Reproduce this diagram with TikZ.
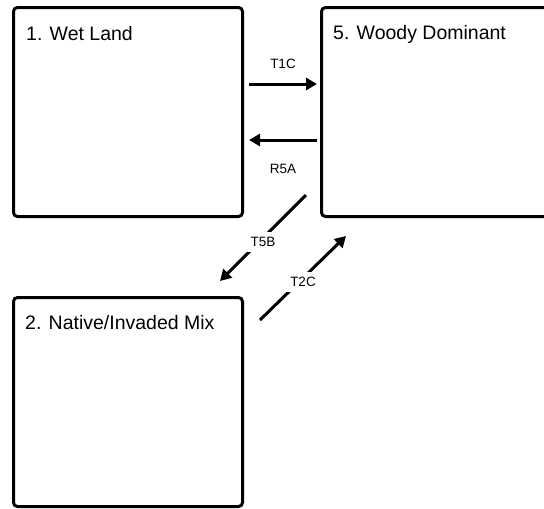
\documentclass[tikz,border=0pt]{standalone}
\usepackage{fontspec}
\setmainfont{Liberation Sans}
\usetikzlibrary{arrows.meta}

\begin{document}
\begin{tikzpicture}[x=1pt,y=-1pt,
  box/.style={draw,line width=3pt,rounded corners=4pt,minimum width=229pt,minimum height=209pt,inner sep=0pt},
  title/.style={anchor=base west,inner sep=0pt,font=\fontsize{19.5}{22}\selectfont},
  lbl/.style={inner sep=1pt,font=\fontsize{13.5}{16}\selectfont},
  gap/.style={lbl,fill=white,inner sep=5pt},
  arr/.style={line width=3pt,-{Triangle[length=11pt,width=12pt]}}]
\clip (0,0) rectangle (544,509);
\node[box] at(128,112)(wet){};
\node[box] at(436,112)(woody){};
\node[box] at(128,402)(mix){};
\node[title] at(26,40)(wet-t){1. Wet Land};
\node[title] at(333,39)(woody-t){5. Woody Dominant};
\node[title] at(25,329)(mix-t){2. Native/Invaded Mix};
\coordinate (t5b-a) at (306,195);
\coordinate (t5b-b) at (220,281);
\coordinate (t2c-a) at (260,320);
\coordinate (t2c-b) at (346,236);
\draw[arr]([shift={(5,-28)}]wet.east)--node[lbl,above=13pt](t1c){T1C}([shift={(-3,-28)}]woody.west);
\draw[arr]([shift={(-3,28)}]woody.west)--node[lbl,below=22pt](r5a){R5A}([shift={(5,28)}]wet.east);
\draw[arr](t5b-a)--node[gap,yshift=-4pt](t5b){T5B}(t5b-b);
\draw[arr](t2c-a)--node[gap,yshift=-4pt](t2c){T2C}(t2c-b);
\end{tikzpicture}
\end{document}
